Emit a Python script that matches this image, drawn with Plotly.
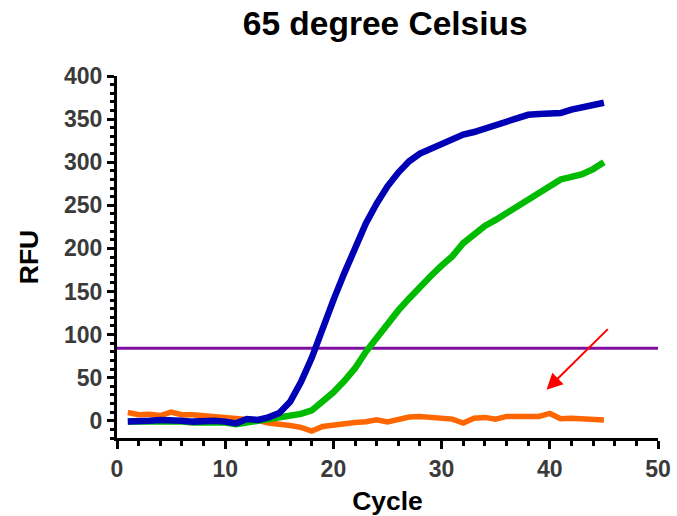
import plotly.graph_objects as go

cycles = list(range(1, 46))

blue = [-1, -1, 0, 1, 1, 0, -1, 0, 0, -1, -3, 2, 1, 4, 9, 22, 45, 73, 108, 140,
        171, 200, 229, 252, 272, 288, 301, 310, 316, 322, 326, 332, 335, 339, 342,
        347, 351, 355, 356, 356, 357, 361, 364, 366, 369]

green = [-1, -1, 0, 0, -1, -1, -2, -2, -1, -2, -4, -2, -1, 1, 3, 5, 8, 12, 22, 33,
         46, 61, 80, 97, 113, 128, 142, 156, 168, 180, 191, 206, 217, 226, 233,
         241, 250, 258, 266, 272, 280, 283, 286, 292, 300]

orange = [9.5, 7, 7.5, 6, 10, 7, 7, 6, 5, 4.3, 3.9, 2, 0.4, -2.7, -3.5, -5.4, -7.7,
          -12, -6.6, -4.5, -3.1, -1.9, -1.2, 1.2, -1.5, 1.2, 4.3, 5, 3.5, 3, 1.9,
          -2.7, 3, 3.9, 1.9, 5, 5, 5, 5, 8.5, 2.3, 3, 2.7, 1.2, 0.8]

threshold = 84
x_range = [0, 50]
y_range = [-20, 400]
arrow_head = (39.7, 36)
arrow_tail = (45.5, 108)

fig = go.Figure()
fig.add_trace(go.Scatter(x=x_range, y=[threshold, threshold], mode="lines",
                         line=dict(color="#7F0FA0", width=3), showlegend=False))
fig.add_trace(go.Scatter(x=cycles, y=orange, mode="lines",
                         line=dict(color="#FF6600", width=5.5), showlegend=False))
fig.add_trace(go.Scatter(x=cycles, y=green, mode="lines",
                         line=dict(color="#00BB00", width=6.5), showlegend=False))
fig.add_trace(go.Scatter(x=cycles, y=blue, mode="lines",
                         line=dict(color="#0000B4", width=6.5), showlegend=False))

fig.add_annotation(x=arrow_head[0], y=arrow_head[1], ax=arrow_tail[0], ay=arrow_tail[1],
                   xref="x", yref="y", axref="x", ayref="y", text="",
                   showarrow=True, arrowhead=2, arrowsize=1.6, arrowwidth=2,
                   arrowcolor="#FF0000")

tickfont = dict(family="Liberation Sans, Arial", size=23, color="#3A3A3A", weight="bold")
titlefont = dict(family="Liberation Sans, Arial", size=26.5, color="#000000", weight="bold")

fig.update_layout(
    width=677, height=516,
    margin=dict(l=117, r=19, t=76, b=78, autoexpand=False),
    paper_bgcolor="white", plot_bgcolor="white",
    title=dict(text="65 degree Celsius", x=0.569, xanchor="center", y=0.955, yanchor="middle",
               font=dict(family="Liberation Sans, Arial", size=33.5, color="#000000", weight="bold")),
    xaxis=dict(range=x_range, dtick=10, tick0=0, showgrid=False, zeroline=False,
               showline=True, linecolor="black", linewidth=3, automargin=False,
               ticks="outside", ticklen=8, tickwidth=3, tickcolor="black",
               minor=dict(dtick=2, ticks="outside", ticklen=5, tickwidth=2.5, tickcolor="black"),
               tickfont=tickfont,
               title=dict(text="Cycle", font=titlefont, standoff=11)),
    yaxis=dict(range=y_range, tickvals=[0, 50, 100, 150, 200, 250, 300, 350, 400],
               showgrid=False, zeroline=False, automargin=False,
               showline=True, linecolor="black", linewidth=3,
               ticks="outside", ticklen=7, tickwidth=3, tickcolor="black",
               minor=dict(tick0=0, dtick=10, ticks="outside", ticklen=4, tickwidth=2.5, tickcolor="black"),
               tickfont=tickfont,
               title=dict(text="RFU", font=titlefont, standoff=18)),
)

fig.write_html("out.html")
